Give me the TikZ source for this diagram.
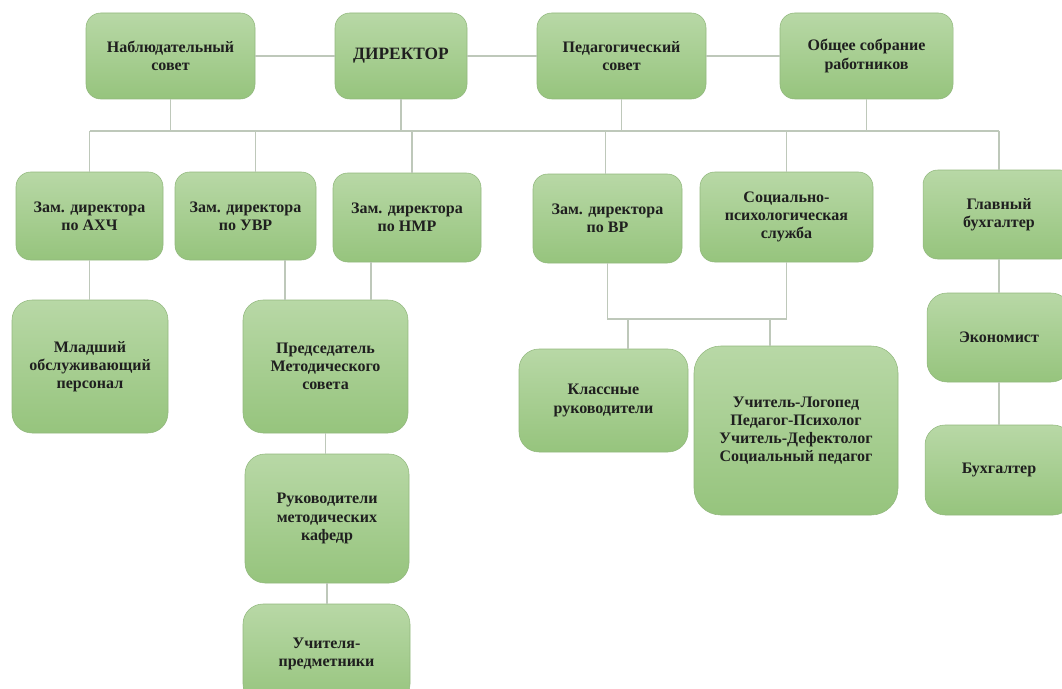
\documentclass[tikz,border=0pt]{standalone}
\usepackage{fontspec}
\setmainfont{Liberation Serif}
\usetikzlibrary{calc}
\definecolor{boxtop}{RGB}{184,216,166}
\definecolor{boxbot}{RGB}{150,196,125}
\definecolor{boxline}{RGB}{146,184,126}
\definecolor{wire}{RGB}{190,200,186}
\begin{document}
\begin{tikzpicture}[x=0.75pt,y=-0.75pt,unit/.style={shape=rectangle,rounded corners=11pt,draw=boxline,top color=boxtop,bottom color=boxbot,inner sep=2pt,align=center,text=black!88,font=\fontsize{12}{13.6}\selectfont\bfseries},unitT/.style={unit,rounded corners=15pt},sz/.style 2 args={minimum width=#1*0.75pt,minimum height=#2*0.75pt},link/.style={draw=wire,line width=0.9pt}]
\def\ybus{131};
\def\ybrk{319};

\clip (0,0) rectangle (1062,688);

\node[unit,sz={169}{86}] (NS) at (170.5,56) {Наблюдательный\\совет};
\node[unit,sz={132}{86},font=\fontsize{13}{15}\selectfont\bfseries] (DIR) at (401,56) {ДИРЕКТОР};
\node[unit,sz={169}{86}] (PS) at (621.5,56) {Педагогический\\совет};
\node[unit,sz={173}{86}] (OS) at (866.5,56) {Общее собрание\\работников};

\node[unit,sz={147}{88}] (AHC) at (89.5,216) {Зам. директора\\по АХЧ};
\node[unit,sz={141}{88}] (UVR) at (245.5,216) {Зам. директора\\по УВР};
\node[unit,sz={148}{89}] (NMR) at (407,217.5) {Зам. директора\\по НМР};
\node[unit,sz={149}{89}] (VR) at (607.5,218.5) {Зам. директора\\по ВР};
\node[unit,sz={173}{90}] (SPS) at (786.5,217) {Социально-\\психологическая\\служба};
\node[unit,sz={152}{89}] (GB) at (999,214.5) {Главный\\бухгалтер};

\node[unitT,sz={156}{133}] (MOP) at (90,366.5) {Младший\\обслуживающий\\персонал};
\node[unitT,sz={165}{133}] (PMS) at (325.5,366.5) {Председатель\\Методического\\совета};
\node[unitT,sz={164}{129}] (RMK) at (327,518.5) {Руководители\\методических\\кафедр};
\node[unitT,sz={167}{100}] (UP) at (326.5,654) {Учителя-\\предметники};
\node[unitT,sz={169}{103}] (KR) at (603.5,400.5) {Классные\\руководители};
\node[unitT,sz={204}{169},rounded corners=20pt] (UL) at (796,430.5) {Учитель-Логопед\\Педагог-Психолог\\Учитель-Дефектолог\\Социальный педагог};
\node[unitT,sz={144}{89}] (EK) at (999,337.5) {Экономист};
\node[unitT,sz={148}{90}] (BH) at (999,470) {Бухгалтер};

\coordinate (busL) at (89.5,\ybus);
\coordinate (busR) at (999,\ybus);
\coordinate (brk) at (0,\ybrk);
\draw[link] (busL) -- (busR);
\draw[link] (NS.east) -- (DIR.west);
\draw[link] (DIR.east) -- (PS.west);
\draw[link] (PS.east) -- (OS.west);
\foreach \n in {NS,DIR,PS,OS} \draw[link] (\n.south) -- (\n.south |- busL);
\foreach \n/\dx in {AHC/0,UVR/10,NMR/5,VR/-2,SPS/0,GB/0} \draw[link] ($(\n.north)+(\dx,0)$) -- ($(\n.north |- busL)+(\dx,0)$);

\coordinate (u1) at ($(UVR.south)+(39.5,0)$);
\coordinate (n1) at ($(NMR.south)+(-36,0)$);
\coordinate (k1) at ($(KR.north)+(24.5,0)$);
\coordinate (l1) at ($(UL.north)+(-26,0)$);
\draw[link] (AHC.south) -- (AHC.south |- MOP.north);
\draw[link] (u1) -- (u1 |- PMS.north);
\draw[link] (n1) -- (n1 |- PMS.north);
\draw[link] (PMS.south) -- (PMS.south |- RMK.north);
\draw[link] (RMK.south) -- (RMK.south |- UP.north);
\draw[link] (VR.south) -- (VR.south |- brk) -| (SPS.south);
\draw[link] (k1) -- (k1 |- brk);
\draw[link] (l1) -- (l1 |- brk);
\draw[link] (GB.south) -- (EK.north);
\draw[link] (EK.south) -- (BH.north);
\end{tikzpicture}
\end{document}
